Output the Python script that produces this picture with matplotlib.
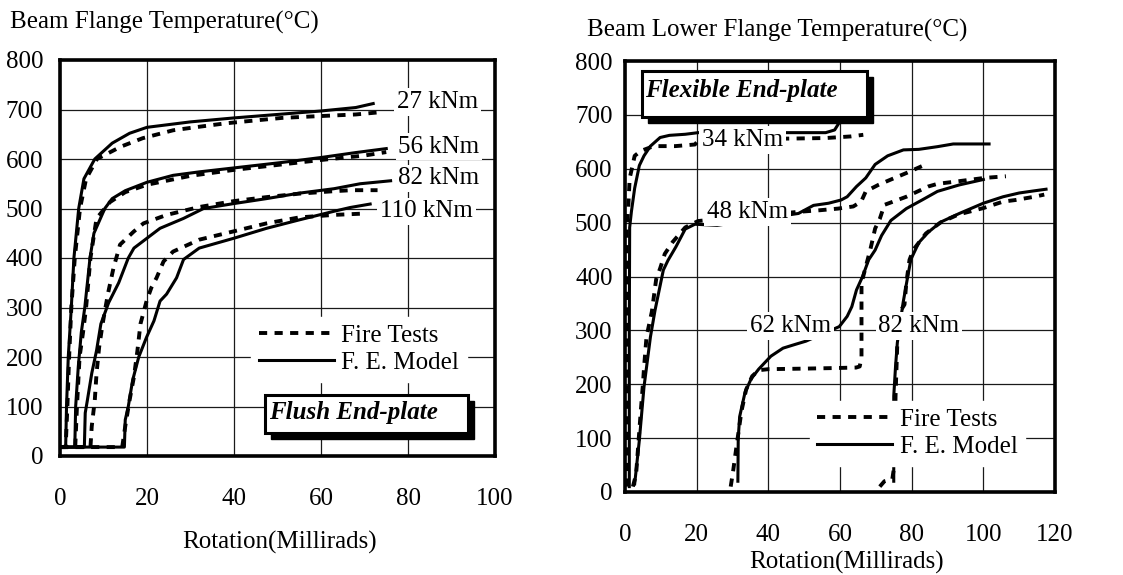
import matplotlib
matplotlib.use("Agg")
import matplotlib.pyplot as plt
from matplotlib.patches import Rectangle
from matplotlib.lines import Line2D

plt.rcParams['font.family'] = ['Liberation Serif', 'DejaVu Serif']

# ---------------- Flush end-plate (left) ----------------
# rotation (millirads) / beam flange temperature (C)
fe27_x = [0, 1.3, 1.5, 1.9, 2.6, 3.2, 4.3, 5.5, 8.0, 12, 16, 20, 30, 40, 50, 60, 68, 72]
fe27_t = [18, 18, 100, 200, 300, 400, 500, 560, 600, 632, 652, 664, 675, 683, 690, 697, 704, 712]
ft27_x = [0, 1.3, 1.7, 2.1, 2.6, 3.4, 4.6, 6, 8.5, 14, 19, 26, 31, 38, 45, 51, 58, 63, 68, 73]
ft27_t = [18, 18, 100, 200, 300, 400, 500, 560, 600, 625, 642, 658, 664, 672, 678, 683, 686, 688, 690, 694]

fe56_x = [0, 3.4, 3.6, 4.2, 4.9, 5.7, 6.9, 7.8, 10.3, 12, 15, 20, 26, 32, 40, 51, 60, 68, 75]
fe56_t = [18, 18, 100, 180, 250, 300, 400, 450, 500, 520, 536, 553, 567, 574, 582, 593, 603, 613, 621]
ft56_x = [0, 3.5, 3.9, 4.5, 5.3, 6.0, 7.0, 8.4, 11.5, 15, 20, 30, 40, 50, 60, 70, 75]
ft56_t = [18, 18, 100, 200, 250, 300, 400, 480, 513, 533, 548, 566, 578, 588, 598, 607, 614]

fe82_x = [0, 5.6, 5.8, 6.3, 7.3, 8.4, 9.4, 11.2, 13.5, 15.7, 17, 20, 23, 28.4, 33, 40, 47.5, 55, 63, 69, 76]
fe82_t = [18, 18, 87, 113, 167, 213, 267, 310, 350, 400, 420, 440, 460, 480, 500, 510, 520, 531, 540, 550, 556]
ft82_x = [0, 7.0, 7.3, 8.0, 8.4, 9.0, 9.8, 11, 12.3, 13.8, 16.9, 19.2, 24.5, 32, 40, 47.5, 55, 63, 67, 73]
ft82_t = [18, 18, 60, 113, 167, 220, 267, 327, 380, 427, 453, 470, 487, 503, 515, 523, 530, 535, 537, 537]

fe110_x = [0, 14.8, 15, 15.7, 16.7, 18.1, 19.9, 21.6, 23, 24.5, 26.8, 28.4, 32, 40, 47.5, 55, 62.8, 66.7, 71.3]
fe110_t = [18, 18, 73, 100, 153, 200, 240, 273, 313, 327, 360, 397, 420, 440, 460, 477, 494, 502, 509]
ft110_x = [0, 14.3, 15, 16, 17, 17.8, 18.5, 19.9, 21, 22.2, 23.8, 26, 32, 40, 47.5, 55, 62.8, 70.5]
ft110_t = [18, 18, 60, 113, 160, 213, 267, 313, 340, 360, 393, 413, 437, 454, 470, 482, 487, 490]

left_labels = ['27 kNm', '56 kNm', '82 kNm', '110 kNm']
left_label_x = [77.4, 77.8, 77.8, 73.6]
left_label_t = [715, 625, 561, 494]

# ---------------- Flexible end-plate (right) ----------------
fe34_x = [1.2, 1.2, 1.3, 1.8, 2.7, 4.0, 5.3, 7.1, 9.8, 12.4, 16.8, 20.4, 30, 44, 56, 58.5, 60, 61]
fe34_t = [10, 300, 491, 521, 564, 606, 624, 642, 658, 662, 664, 667, 668, 667, 667, 672, 688, 705]
ft34_x = [0.3, 0.3, 0.5, 0.9, 1.3, 2.7, 4.4, 8, 14, 19.5, 20.4, 30, 46, 56, 63, 66.5]
ft34_t = [10, 300, 490, 527, 582, 624, 633, 642, 642, 645, 652, 655, 656, 657, 660, 663]

fe48_x = [2.7, 4.0, 5.3, 7.1, 8.4, 10.7, 12, 14.2, 16.8, 19.5, 25.7, 48.4, 52.6, 56.8, 60.3, 62,
          64.6, 67.2, 69.8, 73.3, 77.7, 82, 87.2, 91.6, 101.6]
fe48_t = [15, 96, 195, 288, 338, 412, 430, 455, 488, 497, 495, 517, 532, 536, 542, 548,
          567, 583, 608, 624, 635, 636, 641, 646, 646]
ft48_x = [2.2, 3.1, 4.4, 5.0, 5.3, 6.0, 7.5, 8.7, 9.8, 11.1, 13.3, 16.8, 20.4, 48.4, 54.4, 59.4,
          63.7, 65.9, 67.2, 70.7, 74.2, 78.5, 82.9]
ft48_t = [10, 33, 150, 200, 230, 288, 335, 395, 415, 442, 464, 491, 503, 520, 523, 526,
          530, 539, 558, 570, 580, 592, 605]

fe62_x = [31.5, 31.6, 32, 33.5, 35.2, 37.3, 40.7, 44.1, 47.5, 50.5, 59.8, 62, 63.3, 64.6, 66.3,
          68, 69.8, 71.6, 74.2, 78.5, 82.9, 87.2, 93.3, 100]
fe62_t = [20, 100, 140, 185, 210, 228, 252, 267, 274, 280, 307, 326, 344, 375, 400,
          431, 449, 476, 504, 526, 542, 558, 570, 580]
ft62_x = [29.5, 30.2, 31.1, 32.5, 33.8, 35.5, 37.3, 40, 50, 58, 64.5, 65.5, 66, 66, 67.7, 68.5,
          69.8, 71.1, 72.4, 78.5, 84.6, 87.2, 93.3, 100.3, 106.3]
ft62_t = [10, 40, 84, 150, 190, 215, 226, 228, 229, 230, 231, 233, 250, 388, 431, 451,
          489, 507, 533, 548, 567, 572, 577, 583, 586]

fe82r_x = [75, 75, 75.5, 76, 77.6, 78.9, 79.8, 82, 84.6, 88.1, 93.3, 100, 105.5, 110, 114.2, 117.5]
fe82r_t = [20, 178, 233, 277, 351, 400, 432, 463, 482, 501, 517, 536, 548, 555, 559, 562]
ft82r_x = [71.1, 72.4, 74.6, 75.2, 75.5, 76, 76.4, 78, 78.5, 79.4, 80.5, 84, 88, 93, 100, 105.5,
           109, 114.2, 117]
ft82r_t = [10, 20, 24, 51, 178, 277, 331, 348, 388, 431, 450, 480, 500, 515, 527, 539,
           542, 548, 552]

right_labels = ['34 kNm', '48 kNm', '62 kNm', '82 kNm']
right_label_x = [21.4, 22.8, 34.9, 70.7]
right_label_t = [653, 520, 308, 308]

FS = 18
DASH = (0, (2.1, 1.9))
LW_FE = 2.2
LW_FT = 2.8


def style_axes(ax, xmax, ypad_y):
    ax.set_xlim(0, xmax)
    ax.set_ylim(0, 800)
    ax.set_yticks(range(0, 801, 100))
    ax.set_xticks(range(0, xmax + 1, 20))
    ax.grid(True, color='#1a1a1a', linewidth=0.9)
    ax.set_axisbelow(True)
    for sp in ax.spines.values():
        sp.set_linewidth(2.6)
        sp.set_zorder(10)
    ax.tick_params(length=0, labelsize=FS)
    ax.tick_params(axis='x', pad=23)
    ax.tick_params(axis='y', pad=ypad_y)


def boxed_title(ax, x0, x1, t0, t1, dx, dt, tx, tt, text):
    ax.add_patch(Rectangle((x0 + dx, t0 - dt), x1 - x0, t1 - t0, facecolor='black',
                           edgecolor='black', zorder=6))
    ax.add_patch(Rectangle((x0, t0), x1 - x0, t1 - t0, facecolor='white',
                           edgecolor='black', linewidth=2.2, zorder=7))
    ax.text(tx, tt, text, fontsize=FS, fontweight='bold', fontstyle='italic',
            va='center', ha='left', zorder=8)


def add_legend(ax, anchor):
    handles = [Line2D([], [], color='black', lw=LW_FT, linestyle=DASH),
               Line2D([], [], color='black', lw=LW_FE)]
    leg = ax.legend(handles, ['Fire Tests', 'F. E. Model'], loc='upper left',
                    bbox_to_anchor=anchor, fontsize=FS, frameon=True, fancybox=False,
                    facecolor='white', edgecolor='white', framealpha=1,
                    handlelength=3.0, handletextpad=0.3, labelspacing=0.2,
                    borderpad=0.3, borderaxespad=0)
    leg.set_zorder(5)


fig = plt.figure(figsize=(11.23, 5.75), dpi=100)

# left panel
ax1 = fig.add_axes([60 / 1123, 1 - 456 / 575, 435 / 1123, 396 / 575])
for xs, ts in [(ft27_x, ft27_t), (ft56_x, ft56_t), (ft82_x, ft82_t), (ft110_x, ft110_t)]:
    ax1.plot(xs, ts, color='black', lw=LW_FT, linestyle=DASH, zorder=3)
for xs, ts in [(fe27_x, fe27_t), (fe56_x, fe56_t), (fe82_x, fe82_t), (fe110_x, fe110_t)]:
    ax1.plot(xs, ts, color='black', lw=LW_FE, zorder=3)
for lab, lx, lt in zip(left_labels, left_label_x, left_label_t):
    ax1.text(lx, lt, lab, fontsize=FS, va='center', ha='left', zorder=4,
             bbox=dict(facecolor='white', edgecolor='none', pad=2))
style_axes(ax1, 100, 12)
add_legend(ax1, (0.44, 0.352))
boxed_title(ax1, 47.1, 93.8, 46.5, 123, 1.4, 12, 48.0, 87, 'Flush End-plate')
fig.text(10 / 1123, 1 - 22 / 575, 'Beam Flange Temperature(°C)', fontsize=FS,
         ha='left', va='center')
fig.text(280 / 1123, 1 - 542 / 575, 'Rotation(Millirads)', fontsize=FS,
         ha='center', va='center')

# right panel
ax2 = fig.add_axes([625 / 1123, 1 - 492 / 575, 430 / 1123, 431 / 575])
for xs, ts in [(ft34_x, ft34_t), (ft48_x, ft48_t), (ft62_x, ft62_t), (ft82r_x, ft82r_t)]:
    ax2.plot(xs, ts, color='black', lw=LW_FT, linestyle=DASH, zorder=3)
for xs, ts in [(fe34_x, fe34_t), (fe48_x, fe48_t), (fe62_x, fe62_t), (fe82r_x, fe82r_t)]:
    ax2.plot(xs, ts, color='black', lw=LW_FE, zorder=3)
for lab, lx, lt in zip(right_labels, right_label_x, right_label_t):
    ax2.text(lx, lt, lab, fontsize=FS, va='center', ha='left', zorder=4,
             bbox=dict(facecolor='white', edgecolor='none', pad=2))
style_axes(ax2, 120, 9)
add_legend(ax2, (0.43, 0.212))
boxed_title(ax2, 4.7, 67.5, 696, 781, 1.7, 11, 5.6, 746, 'Flexible End-plate')
fig.text(587 / 1123, 1 - 30 / 575, 'Beam Lower Flange Temperature(°C)', fontsize=FS,
         ha='left', va='center')
fig.text(847 / 1123, 1 - 562 / 575, 'Rotation(Millirads)', fontsize=FS,
         ha='center', va='center')

fig.savefig('out.png', dpi=100)
